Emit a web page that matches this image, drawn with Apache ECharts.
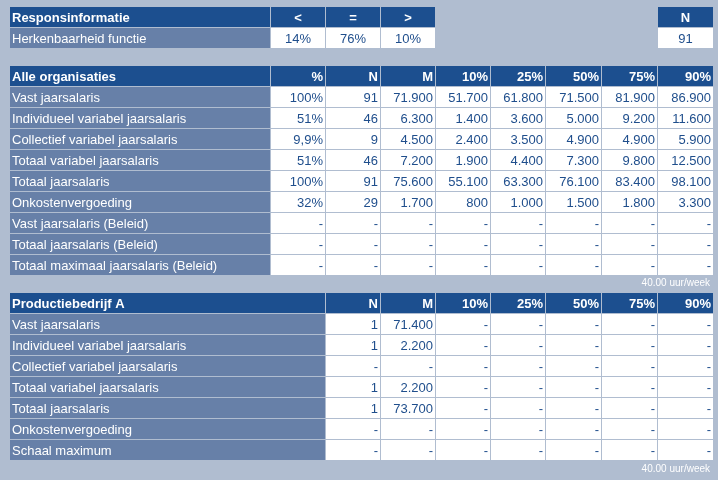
<!DOCTYPE html>
<html>
<head>
<meta charset="utf-8">
<script src="https://cdn.jsdelivr.net/npm/echarts@6/dist/echarts.min.js"></script>
<style>
html,body{margin:0;padding:0;background:#B0BDD0;}
#c{width:718px;height:480px;}
</style>
</head>
<body>
<div id="c"></div>
<script>
// ---- DATA ----
const respTitle = 'Responsinformatie';
const respHeaders = ['<', '=', '>'];
const respLabel = 'Herkenbaarheid functie';
const respValues = [14, 76, 10];
const respN = 91;

const allTitle = 'Alle organisaties';
const allHeaders = ['%', 'N', 'M', '10%', '25%', '50%', '75%', '90%'];
const allLabels = ['Vast jaarsalaris', 'Individueel variabel jaarsalaris', 'Collectief variabel jaarsalaris',
  'Totaal variabel jaarsalaris', 'Totaal jaarsalaris', 'Onkostenvergoeding',
  'Vast jaarsalaris (Beleid)', 'Totaal jaarsalaris (Beleid)', 'Totaal maximaal jaarsalaris (Beleid)'];
const allPct = [100, 51, 9.9, 51, 100, 32, null, null, null];
const allN   = [91, 46, 9, 46, 91, 29, null, null, null];
const allM   = [71900, 6300, 4500, 7200, 75600, 1700, null, null, null];
const allP10 = [51700, 1400, 2400, 1900, 55100, 800, null, null, null];
const allP25 = [61800, 3600, 3500, 4400, 63300, 1000, null, null, null];
const allP50 = [71500, 5000, 4900, 7300, 76100, 1500, null, null, null];
const allP75 = [81900, 9200, 4900, 9800, 83400, 1800, null, null, null];
const allP90 = [86900, 11600, 5900, 12500, 98100, 3300, null, null, null];

const prodTitle = 'Productiebedrijf A';
const prodHeaders = ['N', 'M', '10%', '25%', '50%', '75%', '90%'];
const prodLabels = ['Vast jaarsalaris', 'Individueel variabel jaarsalaris', 'Collectief variabel jaarsalaris',
  'Totaal variabel jaarsalaris', 'Totaal jaarsalaris', 'Onkostenvergoeding', 'Schaal maximum'];
const prodN   = [1, 1, null, 1, 1, null, null];
const prodM   = [71400, 2200, null, 2200, 73700, null, null];
const prodP10 = [null, null, null, null, null, null, null];
const prodP25 = [null, null, null, null, null, null, null];
const prodP50 = [null, null, null, null, null, null, null];
const prodP75 = [null, null, null, null, null, null, null];
const prodP90 = [null, null, null, null, null, null, null];

const footnote = '40.00 uur/week';

// ---- LAYOUT / STYLE ----
const COL_EDGES = [0, 261, 316, 371, 426, 481, 536, 592, 648, 704];
const ROW_H = 21;
const C_BG = '#B0BDD0', C_HEAD = '#1C4F8F', C_LABEL = '#6780A8', C_CELL = '#FFFFFF', C_TEXT = '#1F4E8C';
const FONT = 'Liberation Sans, Arial, sans-serif';

function fmtInt(v) {
  if (v === null || v === undefined) return '-';
  return String(Math.round(v)).replace(/\B(?=(\d{3})+(?!\d))/g, '.');
}
function fmtPct(v) {
  if (v === null || v === undefined) return '-';
  return String(v).replace('.', ',') + '%';
}

// cell: [c0, c1, row, text, kind, align]
function buildResp() {
  const d = [];
  d.push([0, 1, 0, respTitle, 'head', 'left']);
  respHeaders.forEach((h, i) => d.push([1 + i, 2 + i, 0, h, 'head', 'center']));
  d.push([8, 9, 0, 'N', 'head', 'center']);
  d.push([0, 1, 1, respLabel, 'label', 'left']);
  respValues.forEach((v, i) => d.push([1 + i, 2 + i, 1, fmtPct(v), 'cell', 'center']));
  d.push([8, 9, 1, fmtInt(respN), 'cell', 'center']);
  return d;
}
function buildAll() {
  const d = [];
  d.push([0, 1, 0, allTitle, 'head', 'left']);
  allHeaders.forEach((h, i) => d.push([1 + i, 2 + i, 0, h, 'head', 'right']));
  const cols = [allPct.map(fmtPct), allN.map(fmtInt), allM.map(fmtInt), allP10.map(fmtInt),
    allP25.map(fmtInt), allP50.map(fmtInt), allP75.map(fmtInt), allP90.map(fmtInt)];
  allLabels.forEach((l, r) => {
    d.push([0, 1, r + 1, l, 'label', 'left']);
    cols.forEach((c, i) => d.push([1 + i, 2 + i, r + 1, c[r], 'cell', 'right']));
  });
  return d;
}
function buildProd() {
  const d = [];
  d.push([0, 2, 0, prodTitle, 'head', 'left']);
  prodHeaders.forEach((h, i) => d.push([2 + i, 3 + i, 0, h, 'head', 'right']));
  const cols = [prodN.map(fmtInt), prodM.map(fmtInt), prodP10.map(fmtInt), prodP25.map(fmtInt),
    prodP50.map(fmtInt), prodP75.map(fmtInt), prodP90.map(fmtInt)];
  prodLabels.forEach((l, r) => {
    d.push([0, 2, r + 1, l, 'label', 'left']);
    cols.forEach((c, i) => d.push([2 + i, 3 + i, r + 1, c[r], 'cell', 'right']));
  });
  return d;
}

const tables = [
  { top: 7, rows: 2, data: buildResp() },
  { top: 66, rows: 1 + allLabels.length, data: buildAll() },
  { top: 293, rows: 1 + prodLabels.length, data: buildProd() }
];

function renderItem(params, api, tdata) {
  const c0 = api.value(0), c1 = api.value(1), row = api.value(2);
  const item = tdata[params.dataIndex];
  const text = item[3], kind = item[4], align = item[5];
  const p0 = api.coord([COL_EDGES[c0], row]);
  const p1 = api.coord([COL_EDGES[c1], row]);
  const bandH = api.size([0, 1])[1];
  const x = Math.round(p0[0]), w = Math.round(p1[0]) - x - 1;
  const y = Math.round(p0[1] - bandH / 2), h = Math.round(bandH) - 1;
  const fill = kind === 'head' ? C_HEAD : (kind === 'label' ? C_LABEL : C_CELL);
  const tcol = kind === 'cell' ? C_TEXT : '#FFFFFF';
  const weight = kind === 'head' ? 'bold' : 'normal';
  let tx;
  if (align === 'left') tx = x + 2;
  else if (align === 'right') tx = x + w - 2;
  else tx = x + w / 2;
  return {
    type: 'group',
    children: [
      { type: 'rect', shape: { x: x, y: y, width: w, height: h }, style: { fill: fill } },
      { type: 'text', style: { text: text, x: tx, y: y + h / 2 + 1, align: align, verticalAlign: 'middle',
          font: weight + ' 13px ' + FONT, fill: tcol } }
    ]
  };
}

const grid = [], xAxis = [], yAxis = [], series = [];
tables.forEach((t, i) => {
  grid.push({ left: 10, width: 704, top: t.top, height: t.rows * ROW_H });
  xAxis.push({ type: 'value', gridIndex: i, min: 0, max: 704, show: false });
  yAxis.push({ type: 'category', gridIndex: i, inverse: true, show: false,
    data: Array.from({ length: t.rows }, (_, k) => k) });
  series.push({
    type: 'custom', xAxisIndex: i, yAxisIndex: i, silent: true,
    data: t.data.map(r => [r[0], r[1], r[2]]),
    encode: { x: [0, 1], y: 2 },
    renderItem: (params, api) => renderItem(params, api, t.data)
  });
});

const chart = echarts.init(document.getElementById('c'), null, { renderer: 'canvas' });
chart.setOption({
  backgroundColor: C_BG,
  animation: false,
  title: [
    { text: footnote, right: 8, top: 278, padding: 0, textStyle: { color: '#FFFFFF', fontSize: 10, fontWeight: 'normal', fontFamily: FONT } },
    { text: footnote, right: 8, top: 464, padding: 0, textStyle: { color: '#FFFFFF', fontSize: 10, fontWeight: 'normal', fontFamily: FONT } }
  ],
  grid: grid, xAxis: xAxis, yAxis: yAxis, series: series
});
</script>
</body>
</html>
